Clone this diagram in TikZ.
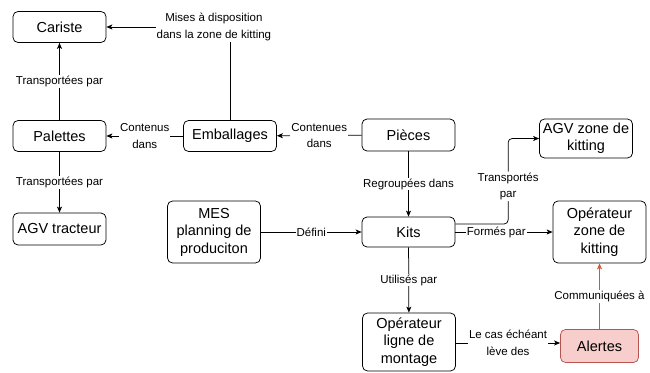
\documentclass[tikz,border=0pt]{standalone}
\usepackage{fontspec}
\setmainfont{Liberation Sans}
\usetikzlibrary{arrows.meta}
\definecolor{alertfill}{HTML}{F8CECC}
\definecolor{alertline}{HTML}{B85450}
\definecolor{alertarrow}{HTML}{D4573A}
\begin{document}
\begin{tikzpicture}[x=1pt, y=-1pt,
	box/.style={draw, rounded corners=5pt, line width=0.75pt, align=center, inner sep=1pt,
		minimum width=93pt, minimum height=31pt, font=\fontsize{14.5}{17.5}\selectfont},
	tallbox/.style={box, minimum height=62pt},
	alertbox/.style={box, fill=alertfill, draw=alertline, minimum width=78pt, minimum height=33pt},
	conn/.style={draw, line width=0.75pt, -{Stealth[length=6pt, width=5pt, inset=1.5pt]}},
	lbl/.style={fill=white, inner sep=1pt, align=center, font=\fontsize{11.5}{16.5}\selectfont}]
	\useasboundingbox (0,0) rectangle (650,372);
	% Define the nodes with specific positions
	\node[box] (cariste) at (59.5, 27) {Cariste};
	\node[box] (palettes) at (59.5, 136) {Palettes};
	\node[box, minimum height=32pt] (agvtract) at (59.5, 229) {AGV tracteur};
	\node[box] (emballages) at (230, 136) {Emballages};
	\node[box, minimum height=32pt] (pieces) at (408.5, 135) {Pièces};
	\node[box, minimum height=30pt] (kits) at (408.5, 232) {Kits};
	\node[tallbox] (mes) at (214, 232) {MES\\planning de\\produciton};
	\node[box, minimum height=39pt, font=\fontsize{14.5}{17}\selectfont] (agvkit) at (586, 138.5) {AGV zone de\\kitting};
	\node[tallbox] (opkit) at (599.5, 232) {Opérateur\\zone de\\kitting};
	\node[tallbox, minimum height=58pt] (opligne) at (409, 342) {Opérateur\\ligne de\\montage};
	\node[alertbox] (alertes) at (599.5, 346) {Alertes};

	% Draw the edges between nodes with labels
	\draw[conn] (emballages.north) |- node[lbl, pos=0.565] {Mises à disposition\\dans la zone de kitting} (cariste.east);
	\draw[conn] (palettes) -- node[lbl] {Transportées par} (cariste);
	\draw[conn] (palettes) -- node[lbl] {Transportées par} (agvtract);
	\draw[conn] (emballages) -- node[lbl] {Contenus\\dans} (palettes);
	\draw[conn] (pieces) -- node[lbl] {Contenues\\dans} (emballages);
	\draw[conn] (pieces) -- node[lbl] {Regroupées dans} (kits);
	\draw[conn] (mes) -- node[lbl] {Défini} (kits);
	\draw[conn, rounded corners=4pt] ([yshift=8pt]kits.east) -| node[lbl, pos=0.72] {Transportés\\par} ([xshift=-31pt]agvkit.west) -- (agvkit.west);
	\draw[conn] (kits) -- node[lbl, pos=0.42] {Formés par} (opkit);
	\draw[conn] (kits) -- node[lbl] {Utilisés par} (opligne);
	\draw[conn] ([yshift=-1pt]opligne.east) -- node[lbl] {Le cas échéant\\lève des} ([yshift=-1pt]opligne.east -| alertes.west);
	\draw[conn, draw=alertarrow] (alertes) -- node[lbl] {Communiquées à} (opkit);
\end{tikzpicture}
\end{document}
